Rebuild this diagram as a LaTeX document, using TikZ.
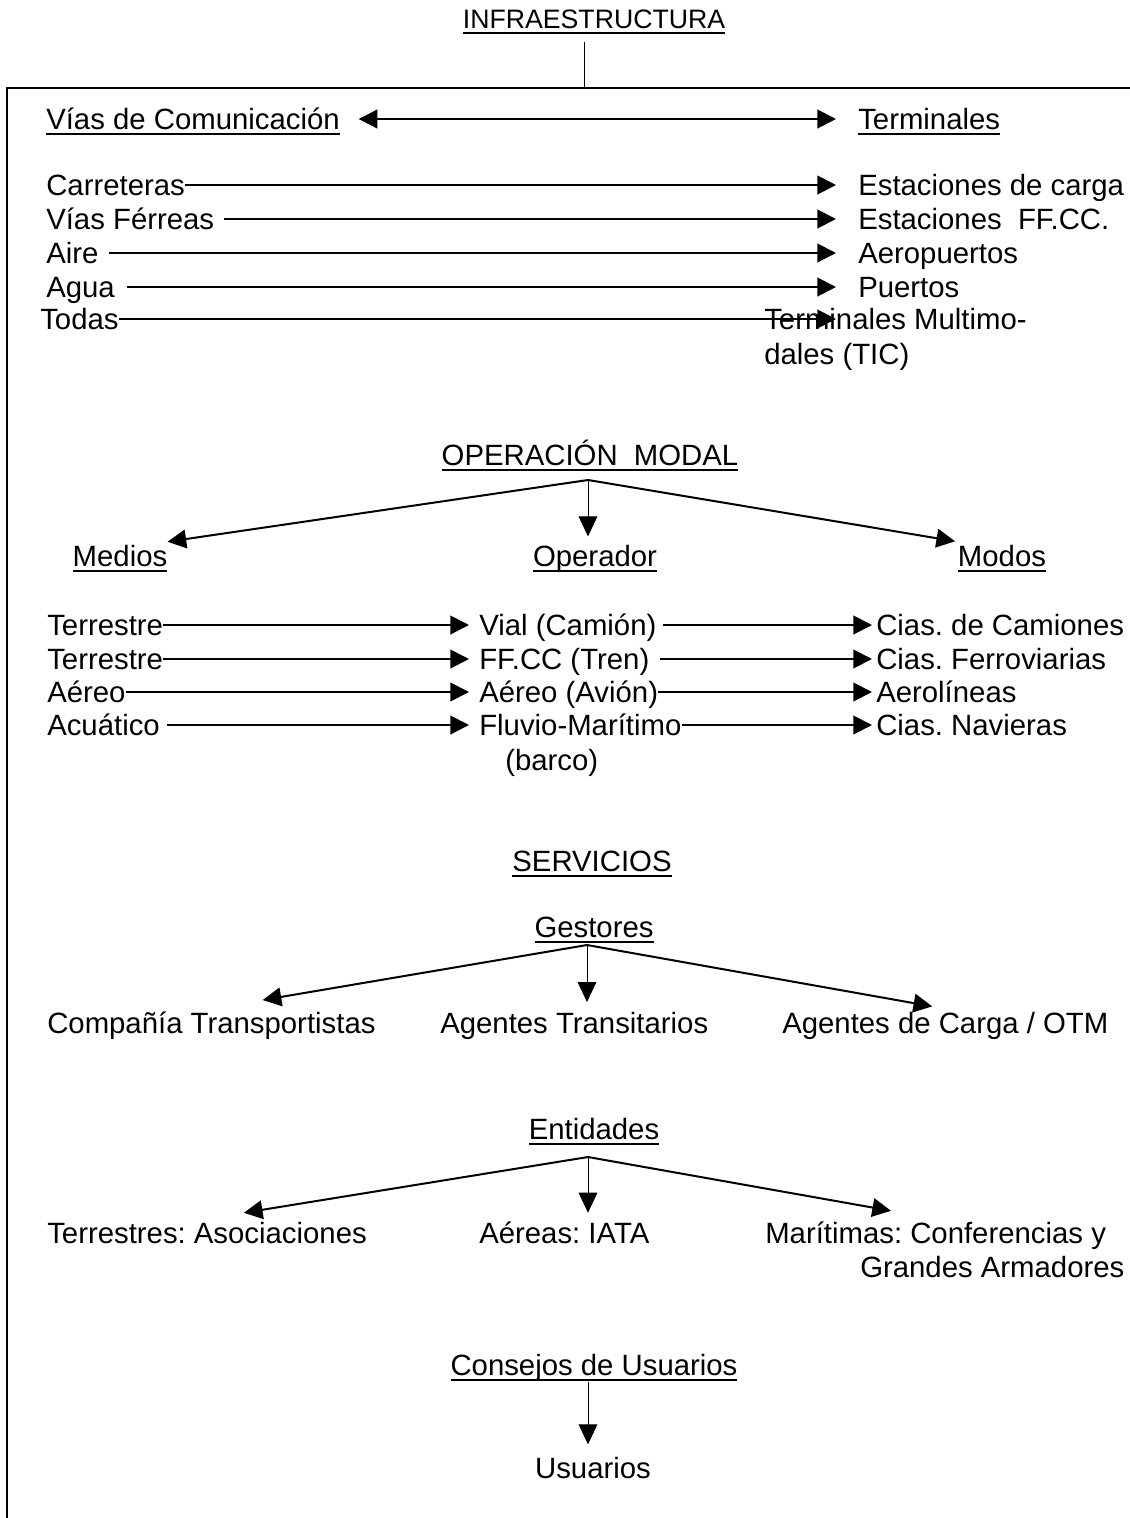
\documentclass[tikz,border=0pt]{standalone}
\usepackage{fontspec}
\setmainfont{Liberation Sans}
\usetikzlibrary{arrows.meta}
\frenchspacing

\newcommand{\subrayar}[1]{\setbox0=\hbox{#1}\leavevmode\rlap{\vrule width\wd0 height -2.75pt depth 4.75pt}\box0}

\tikzset{
  texto/.style={inner sep=0pt, text height=18pt, text depth=3pt, font=\fontsize{22}{26}\selectfont},
  >={Triangle[length=14pt,width=14pt]},
  flecha/.style={line width=1.5pt, ->},
  flechav/.style={line width=0.75pt, -{Triangle[length=15pt,width=14pt]}},
}

\begin{document}
\begin{tikzpicture}[x=0.75pt,y=-0.75pt]
\useasboundingbox (0,0) rectangle (1130,1518);
\coordinate (cruce) at (584,88);
% Infraestructura
\node[texto, anchor=base, font=\fontsize{20}{24}\selectfont] (infra) at (594,28) {\subrayar{INFRAESTRUCTURA}};
\draw[line width=0.75pt, shorten <=7pt] (infra.south -| cruce) -- (cruce);
% Draw frame
\draw[line width=1pt] (1130,88) -- (cruce) -- (7,88) -- (7,1518);
% Vias de comunicacion y terminales
\node[texto, anchor=base west] (vias) at (46,129) {\subrayar{Vías de Comunicación}};
\node[texto, anchor=base west] (termin) at (858,129) {\subrayar{Terminales}};
\draw[flecha, <->, shorten <=14pt, shorten >=16.5pt] (vias) -- (termin);
\foreach \y/\izq/\der/\sep [count=\i] in {195/Carreteras/Estaciones de carga/0pt,
    229/Vías Férreas/Estaciones~~FF.CC./7.5pt, 263/Aire/Aeropuertos/7.5pt, 297/Agua/Puertos/9pt}
{
  \node[texto, anchor=base west] (izq\i) at (46,\y) {\izq};
  \node[texto, anchor=base west] (der\i) at (858,\y) {\der};
  \draw[flecha, shorten <=\sep, shorten >=16.5pt] (izq\i) -- (der\i);
}
\node[texto, anchor=base west] (todas) at (40,329) {Todas};
\node[texto, anchor=base west] (multi) at (764,329) {Terminales Multimo-};
\node[texto, anchor=base west] (multib) at (764,364) {dales (TIC)};
\draw[flecha, shorten >=16.5pt] (todas) -- (todas -| der4.west);
% Operacion modal
\node[texto, anchor=base] (modal) at (590,465) {\subrayar{OPERACIÓN~~MODAL}};
\coordinate (pmodal) at (588,480);
\node[texto, anchor=base] (medios) at (120,566) {\subrayar{Medios}};
\node[texto, anchor=base] (operador) at (595,566) {\subrayar{Operador}};
\node[texto, anchor=base] (modos) at (1002,566) {\subrayar{Modos}};
\draw[flecha] (pmodal) -- (medios.north east);
\draw[flechav, shorten >=4pt] (pmodal) -- (pmodal |- operador.north);
\draw[flecha, shorten >=2pt] (pmodal) -- (modos.north west);
\foreach \y/\a/\b/\c/\sa/\sb [count=\i] in {635/Terrestre/Vial (Camión)/Cias. de Camiones/0pt/4.5pt,
    669/Terrestre/FF.CC (Tren)/Cias. Ferroviarias/0pt/8pt, 702/Aéreo/Aéreo (Avión)/Aerolíneas/0pt/0pt,
    735/Acuático/Fluvio-Marítimo/Cias. Navieras/5pt/0pt}
{
  \node[texto, anchor=base west] (medio\i) at (47,\y) {\a};
  \node[texto, anchor=base west] (oper\i) at (479,\y) {\b};
  \node[texto, anchor=base west] (modo\i) at (876,\y) {\c};
  \draw[flecha, shorten <=\sa, shorten >=7.5pt] (medio\i) -- (oper\i);
  \draw[flecha, shorten <=\sb, shorten >=3pt] (oper\i) -- (modo\i);
}
\node[texto, anchor=base west] (barco) at (505,770) {(barco)};
% Servicios
\node[texto, anchor=base] (servicios) at (592,871) {\subrayar{SERVICIOS}};
\node[texto, anchor=base] (gestores) at (594,937) {\subrayar{Gestores}};
\coordinate (pgest) at (587,945);
\node[texto, anchor=base west] (compania) at (47,1033) {Compañía Transportistas};
\node[texto, anchor=base west] (transit) at (440,1033) {Agentes Transitarios};
\node[texto, anchor=base west] (carga) at (782,1033) {Agentes de Carga / OTM};
\draw[flecha, shorten >=39pt] (pgest) -- (compania.north);
\draw[flechav, shorten >=5pt] (pgest) -- (pgest |- transit.north);
\draw[flecha, shorten >=10pt] (pgest) -- (carga.north);
% Entidades
\node[texto, anchor=base] (entidades) at (594,1139) {\subrayar{Entidades}};
\coordinate (pent) at (588,1157);
\node[texto, anchor=base west] (asoc) at (47,1243) {Terrestres: Asociaciones};
\node[texto, anchor=base west] (iata) at (479,1243) {Aéreas: IATA};
\node[texto, anchor=base west] (maritimas) at (765,1243) {Marítimas: Conferencias y};
\node[texto, anchor=base west] (armadores) at (860,1277) {Grandes Armadores};
\draw[flecha, shorten >=28pt] (pent) -- (asoc.north);
\draw[flechav, shorten >=4.5pt] (pent) -- (pent |- iata.north);
\draw[flecha, shorten >=34pt] (pent) -- (maritimas.north);
% Consejos de usuarios
\node[texto, anchor=base] (consejos) at (594,1375) {\subrayar{Consejos de Usuarios}};
\coordinate (pcons) at (588,1382);
\node[texto, anchor=base] (usuarios) at (593,1478) {Usuarios};
\draw[flechav, shorten >=7pt] (pcons) -- (pcons |- usuarios.north);
\end{tikzpicture}
\end{document}
